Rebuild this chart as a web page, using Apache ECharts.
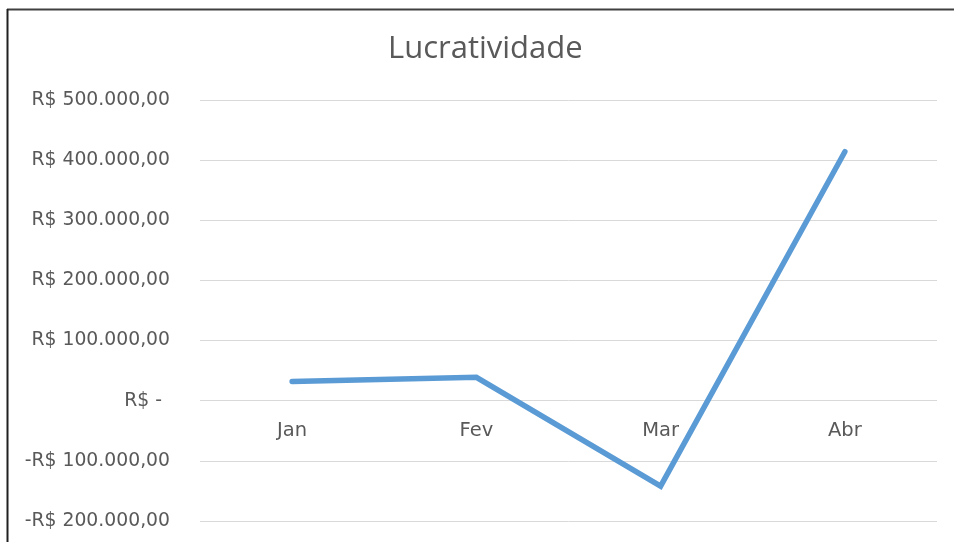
<!DOCTYPE html>
<html>
<head>
<meta charset="utf-8">
<script src="https://cdn.jsdelivr.net/npm/echarts@6/dist/echarts.min.js"></script>
<style>
html,body{margin:0;padding:0;background:#fff;}
#c{width:954px;height:542px;}
</style>
</head>
<body>
<div id="c"></div>
<script>
const categories = ['Jan', 'Fev', 'Mar', 'Abr'];
const lucro = [32000, 39000, -142000, 414000];
const yMin = -200000, yMax = 500000, yStep = 100000;

function fmt(v) {
  if (v === 0) return '{z|R$ -}';
  const neg = v < 0;
  const s = Math.abs(v).toString().replace(/\B(?=(\d{3})+(?!\d))/g, '.');
  return (neg ? '-' : '') + 'R$ ' + s + ',00';
}

const chart = echarts.init(document.getElementById('c'), null, {renderer: 'canvas'});
chart.setOption({
  backgroundColor: '#ffffff',
  animation: false,
  title: {
    text: 'Lucratividade',
    left: 383,
    top: 29,
    textStyle: {fontFamily: 'Open Sans', fontSize: 31, fontWeight: 'normal', color: '#595959'}
  },
  grid: {left: 200, right: 17, top: 100, bottom: 21, containLabel: false, outerBoundsMode: 'none'},
  xAxis: {
    type: 'category',
    data: categories,
    boundaryGap: true,
    offset: -120,
    axisLine: {show: false, onZero: false},
    axisTick: {show: false},
    axisLabel: {margin: 20, fontFamily: 'DejaVu Sans', fontSize: 19.5, color: '#595959'}
  },
  yAxis: {
    type: 'value',
    min: yMin, max: yMax, interval: yStep,
    axisLine: {show: false},
    axisTick: {show: false},
    splitLine: {lineStyle: {color: '#d9d9d9', width: 1}},
    axisLabel: {
      margin: 30,
      fontFamily: 'DejaVu Sans', fontSize: 18.8, color: '#595959',
      formatter: fmt,
      rich: {z: {fontFamily: 'DejaVu Sans', fontSize: 18.8, color: '#595959', padding: [0, 8, 0, 0]}}
    }
  },
  series: [{
    type: 'line',
    data: lucro,
    showSymbol: false,
    symbol: 'none',
    lineStyle: {color: '#5b9bd5', width: 5.5, cap: 'round', join: 'miter'},
    itemStyle: {color: '#5b9bd5'},
    z: 5
  }],
  graphic: [
    {type: 'line', shape: {x1: 7, y1: 9.5, x2: 954, y2: 9.5}, style: {stroke: '#404040', lineWidth: 2}, z: 100},
    {type: 'line', shape: {x1: 7.5, y1: 9, x2: 7.5, y2: 542}, style: {stroke: '#202020', lineWidth: 2}, z: 100}
  ]
});
</script>
</body>
</html>
